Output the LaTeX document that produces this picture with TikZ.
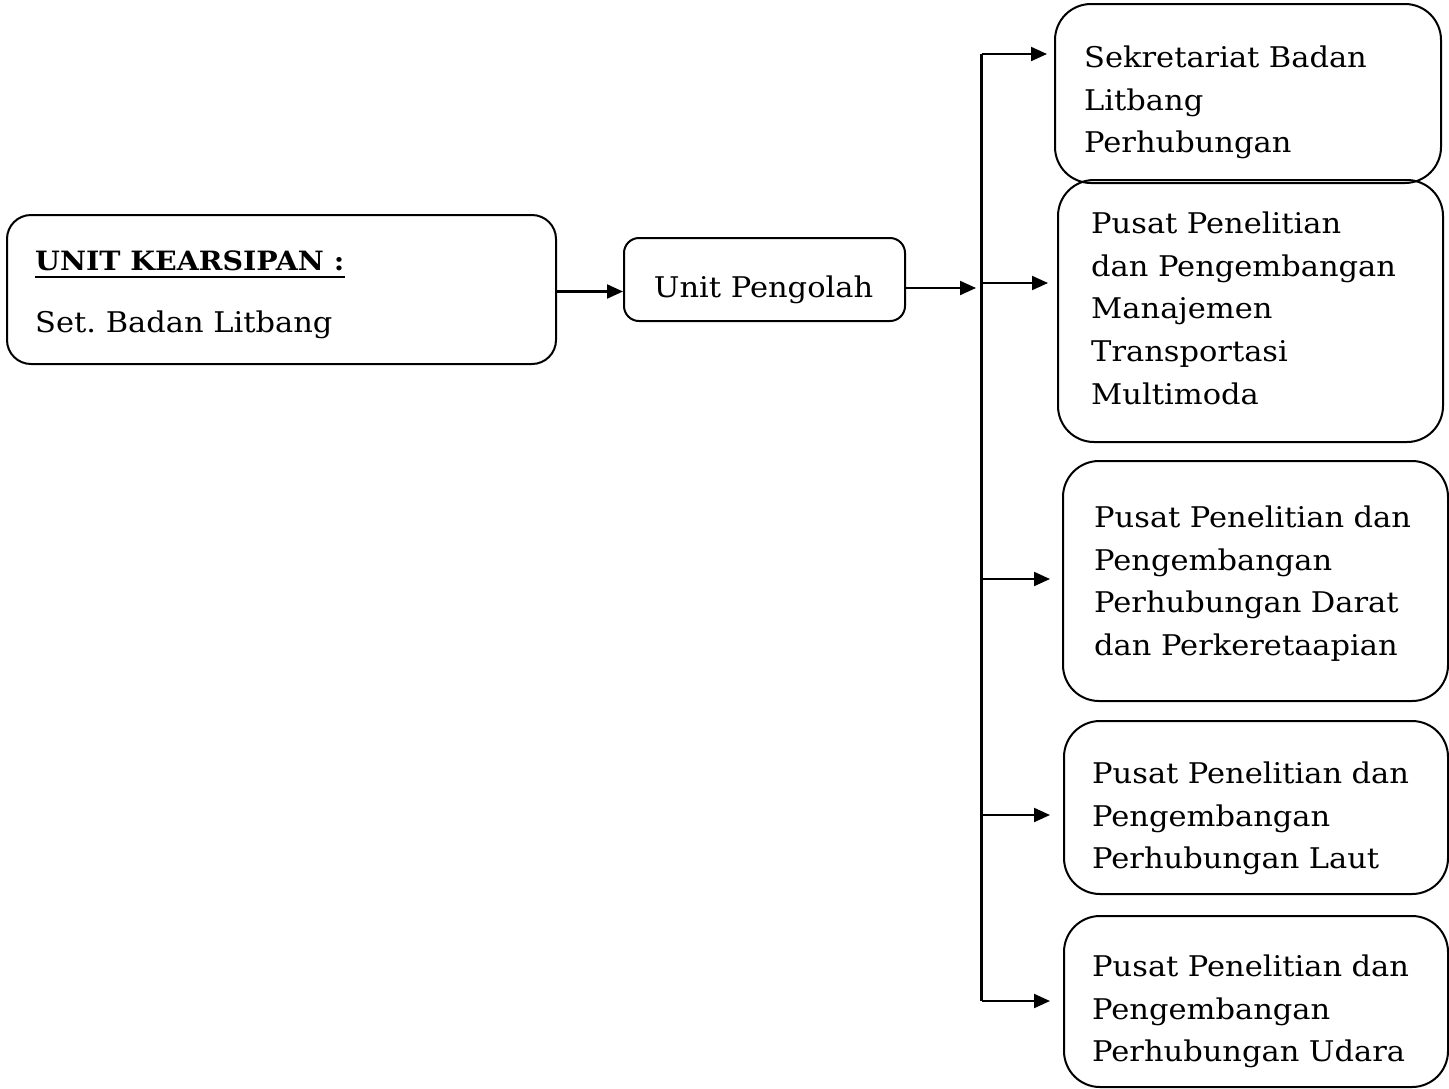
\documentclass[tikz,border=0pt]{standalone}
\usepackage{fontspec}
\setmainfont{DejaVu Serif}[FakeStretch=1.07]
\usetikzlibrary{arrows.meta,calc}
\tikzset{
  box/.style={draw, line width=2pt, anchor=north west, inner sep=0pt},
  rbox/.style={box, rounded corners=36pt},
  btxt/.style={anchor=north west, inner sep=0pt, align=left, text width=345pt,
    font=\frenchspacing\fontsize{28.5}{42.8}\selectfont},
  txt/.style={anchor=base west, inner sep=0pt, font=\frenchspacing\fontsize{28.5}{42.8}\selectfont},
  line/.style={line width=2.1pt},
  arr/.style={line width=2.1pt, -{Triangle[length=16pt,width=14pt]}},
}
\newcommand{\topstrut}{\rule{0pt}{25pt}}
\begin{document}
\begin{tikzpicture}[x=1pt,y=-1pt]
\useasboundingbox (0,0) rectangle (1449,1088);
% left box
\node[box, rounded corners=24pt, minimum width=549pt, minimum height=149pt] (A) at (6,214) {};
\node[txt, font=\bfseries\fontsize{26.6}{30}\selectfont] (At) at (35,270) {UNIT KEARSIPAN :};
\draw[line width=2pt] ([yshift=-7pt]At.base west) -- ([yshift=-7pt]At.base east);
\node[txt] (As) at (35,332) {Set. Badan Litbang};
% unit pengolah
\node[box, rounded corners=15pt, minimum width=281pt, minimum height=83pt] (B) at (623,237) {};
\node[txt, anchor=base] (Bt) at (763.5,297) {Unit Pengolah};
% right boxes
\node[rbox, minimum width=386pt, minimum height=179pt] (S1) at (1054,3) {};
\node[rbox, minimum width=385pt, minimum height=262pt] (S2) at (1057,179) {};
\node[rbox, minimum width=385pt, minimum height=240pt] (S3) at (1062,460) {};
\node[rbox, minimum width=384pt, minimum height=173pt] (S4) at (1063,720) {};
\node[rbox, minimum width=384pt, minimum height=171pt] (S5) at (1063,915) {};
\node[btxt] (S1t) at (1084,42) {\topstrut Sekretariat Badan\\Litbang\\Perhubungan};
\node[btxt] (S2t) at (1091,208) {\topstrut Pusat Penelitian\\dan Pengembangan\\Manajemen\\Transportasi\\Multimoda};
\node[btxt] (S3t) at (1094,502) {\topstrut Pusat Penelitian dan\\Pengembangan\\Perhubungan Darat\\dan Perkeretaapian};
\node[btxt] (S4t) at (1092,758) {\topstrut Pusat Penelitian dan\\Pengembangan\\Perhubungan Laut};
\node[btxt] (S5t) at (1092,951) {\topstrut Pusat Penelitian dan\\Pengembangan\\Perhubungan Udara};
% trunk coordinates
\coordinate (t1) at (981.5,54);
\coordinate (t2) at (981.5,283);
\coordinate (t3) at (981.5,579);
\coordinate (t4) at (981.5,815);
\coordinate (t5) at (981.5,1001);
\coordinate (tB) at (976,288);
% connectors
\draw[line] (t1) -- (t5);
\draw[arr] ([yshift=-2pt]A.east) -- ([yshift=-2pt]A.east -| B.west);
\draw[arr] (tB -| B.east) -- (tB);
\draw[arr, shorten >=7pt] (t1) -- (t1 -| S1.west);
\draw[arr, shorten >=9pt] (t2) -- (t2 -| S2.west);
\draw[arr, shorten >=12pt] (t3) -- (t3 -| S3.west);
\draw[arr, shorten >=13pt] (t4) -- (t4 -| S4.west);
\draw[arr, shorten >=13pt] (t5) -- (t5 -| S5.west);
\end{tikzpicture}
\end{document}
